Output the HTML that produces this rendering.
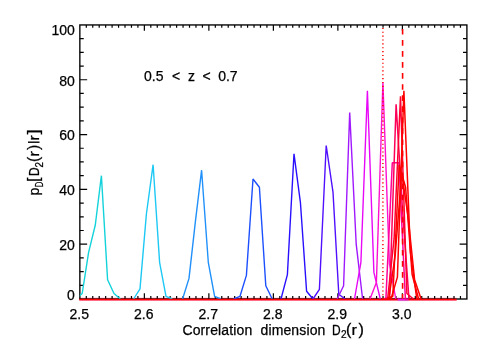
<!DOCTYPE html>
<html><head><meta charset="utf-8"><title>plot</title>
<style>
html,body{margin:0;padding:0;background:#fff;}
body{width:491px;height:350px;overflow:hidden;}
svg{display:block;will-change:transform;}
text{font-family:"Liberation Sans",sans-serif;fill:#000;stroke:#000;stroke-width:0.25px;}
</style></head><body>
<svg width="491" height="350" viewBox="0 0 491 350">
<rect width="491" height="350" fill="#fff"/>
<defs><clipPath id="cp"><rect x="79.8" y="23.9" width="387.0" height="277.1"/></clipPath></defs>

<line x1="79.3" x2="456.6" y1="299.4" y2="299.4" stroke="#ff90b0" stroke-width="3.2"/>
<line x1="397.6" x2="408.4" y1="299.5" y2="299.5" stroke="#c898ff" stroke-width="3.2"/>
<g stroke="#000" stroke-width="1.35" fill="none" stroke-linecap="butt">
<rect x="79.85" y="24.95" width="387.05" height="274.05"/>
<path stroke-width="1.2" d="M86.30 299.00v-2.90M86.30 24.95v2.90M92.75 299.00v-2.90M92.75 24.95v2.90M99.20 299.00v-2.90M99.20 24.95v2.90M105.65 299.00v-2.90M105.65 24.95v2.90M112.10 299.00v-2.90M112.10 24.95v2.90M118.56 299.00v-2.90M118.56 24.95v2.90M125.01 299.00v-2.90M125.01 24.95v2.90M131.46 299.00v-2.90M131.46 24.95v2.90M137.91 299.00v-2.90M137.91 24.95v2.90M144.36 299.00v-5.70M144.36 24.95v5.70M150.81 299.00v-2.90M150.81 24.95v2.90M157.26 299.00v-2.90M157.26 24.95v2.90M163.71 299.00v-2.90M163.71 24.95v2.90M170.16 299.00v-2.90M170.16 24.95v2.90M176.61 299.00v-2.90M176.61 24.95v2.90M183.06 299.00v-2.90M183.06 24.95v2.90M189.51 299.00v-2.90M189.51 24.95v2.90M195.97 299.00v-2.90M195.97 24.95v2.90M202.42 299.00v-2.90M202.42 24.95v2.90M208.87 299.00v-5.70M208.87 24.95v5.70M215.32 299.00v-2.90M215.32 24.95v2.90M221.77 299.00v-2.90M221.77 24.95v2.90M228.22 299.00v-2.90M228.22 24.95v2.90M234.67 299.00v-2.90M234.67 24.95v2.90M241.12 299.00v-2.90M241.12 24.95v2.90M247.57 299.00v-2.90M247.57 24.95v2.90M254.02 299.00v-2.90M254.02 24.95v2.90M260.47 299.00v-2.90M260.47 24.95v2.90M266.92 299.00v-2.90M266.92 24.95v2.90M273.37 299.00v-5.70M273.37 24.95v5.70M279.83 299.00v-2.90M279.83 24.95v2.90M286.28 299.00v-2.90M286.28 24.95v2.90M292.73 299.00v-2.90M292.73 24.95v2.90M299.18 299.00v-2.90M299.18 24.95v2.90M305.63 299.00v-2.90M305.63 24.95v2.90M312.08 299.00v-2.90M312.08 24.95v2.90M318.53 299.00v-2.90M318.53 24.95v2.90M324.98 299.00v-2.90M324.98 24.95v2.90M331.43 299.00v-2.90M331.43 24.95v2.90M337.88 299.00v-5.70M337.88 24.95v5.70M344.33 299.00v-2.90M344.33 24.95v2.90M350.78 299.00v-2.90M350.78 24.95v2.90M357.24 299.00v-2.90M357.24 24.95v2.90M363.69 299.00v-2.90M363.69 24.95v2.90M370.14 299.00v-2.90M370.14 24.95v2.90M376.59 299.00v-2.90M376.59 24.95v2.90M383.04 299.00v-2.90M383.04 24.95v2.90M389.49 299.00v-2.90M389.49 24.95v2.90M395.94 299.00v-2.90M395.94 24.95v2.90M402.39 299.00v-5.70M402.39 24.95v5.70M408.84 299.00v-2.90M408.84 24.95v2.90M415.29 299.00v-2.90M415.29 24.95v2.90M421.74 299.00v-2.90M421.74 24.95v2.90M428.19 299.00v-2.90M428.19 24.95v2.90M434.65 299.00v-2.90M434.65 24.95v2.90M441.10 299.00v-2.90M441.10 24.95v2.90M447.55 299.00v-2.90M447.55 24.95v2.90M454.00 299.00v-2.90M454.00 24.95v2.90M460.45 299.00v-2.90M460.45 24.95v2.90M79.85 285.30h3.90M466.90 285.30h-3.90M79.85 271.60h3.90M466.90 271.60h-3.90M79.85 257.89h3.90M466.90 257.89h-3.90M79.85 244.19h7.30M466.90 244.19h-7.30M79.85 230.49h3.90M466.90 230.49h-3.90M79.85 216.78h3.90M466.90 216.78h-3.90M79.85 203.08h3.90M466.90 203.08h-3.90M79.85 189.38h7.30M466.90 189.38h-7.30M79.85 175.68h3.90M466.90 175.68h-3.90M79.85 161.97h3.90M466.90 161.97h-3.90M79.85 148.27h3.90M466.90 148.27h-3.90M79.85 134.57h7.30M466.90 134.57h-7.30M79.85 120.87h3.90M466.90 120.87h-3.90M79.85 107.16h3.90M466.90 107.16h-3.90M79.85 93.46h3.90M466.90 93.46h-3.90M79.85 79.76h7.30M466.90 79.76h-7.30M79.85 66.06h3.90M466.90 66.06h-3.90M79.85 52.35h3.90M466.90 52.35h-3.90M79.85 38.65h3.90M466.90 38.65h-3.90"/>
</g>
<g fill="none" stroke-linejoin="bevel" stroke-linecap="butt" clip-path="url(#cp)">
<polyline points="75.8,299.0 82.2,293.5 88.6,252.4 95.3,225.0 101.4,175.7 107.6,279.8 114.0,293.5 120.4,299.0" stroke="#12d2da" stroke-width="1.40"/>
<polyline points="133.6,299.0 140.0,288.9 146.4,214.0 153.1,164.7 159.6,262.3 166.0,296.3 172.4,299.0" stroke="#1cc8f4" stroke-width="1.40"/>
<polyline points="182.6,299.0 189.0,278.4 195.3,222.3 201.6,170.2 208.3,262.3 214.6,296.3 221.0,299.0" stroke="#2090fa" stroke-width="1.40"/>
<polyline points="233.6,299.0 240.0,296.3 246.4,275.4 253.0,179.0 259.4,187.2 265.8,285.8 272.2,299.0" stroke="#1c50ff" stroke-width="1.40"/>
<polyline points="281.0,299.0 287.4,274.6 294.0,153.8 300.4,202.3 306.6,291.3 313.0,299.0" stroke="#2810ff" stroke-width="1.40"/>
<polyline points="313.0,299.0 319.4,289.4 326.2,145.5 333.0,192.1 338.8,294.3 345.0,299.0" stroke="#5010ff" stroke-width="1.40"/>
<polyline points="337.2,299.0 343.6,285.8 349.7,112.6 356.2,244.2 362.6,299.0" stroke="#a018ff" stroke-width="1.40"/>
<polyline points="354.5,299.0 360.9,262.3 367.4,90.7 373.9,272.4 380.3,299.0" stroke="#e808f8" stroke-width="1.40"/>
<polyline points="370.0,299.0 376.4,282.6 382.9,82.5 389.4,263.4 395.8,299.0" stroke="#ff10d0" stroke-width="1.40"/>
</g>
<g fill="none" stroke-linejoin="bevel" stroke-linecap="butt" clip-path="url(#cp)">
<polyline points="385.9,299.0 392.3,162.8 398.9,162.8 405.4,299.0" stroke="#ff0098" stroke-width="1.50"/>
<polyline points="383.2,299.0 389.6,297.6 396.1,104.4 402.6,211.3 409.0,299.0" stroke="#ff0058" stroke-width="1.50"/>
<polyline points="387.6,299.0 394.1,238.7 400.5,96.2 406.9,293.5 413.4,299.0" stroke="#ff0030" stroke-width="1.50"/>
<polyline points="386.3,299.0 392.8,296.3 399.2,165.0 405.6,187.2 412.1,274.3 418.6,299.0" stroke="#ff0000" stroke-width="1.50"/>
<polyline points="388.8,299.0 395.2,255.2 401.7,172.9 408.1,216.8 414.6,279.8 421.1,299.0" stroke="#ff0000" stroke-width="1.50"/>
<polyline points="391.0,299.0 397.4,277.1 403.9,90.7 410.4,252.4 416.8,299.0" stroke="#ff0000" stroke-width="1.50"/>
</g>
<line x1="382.9" x2="382.9" y1="27.9" y2="299.0" stroke="#ff0000" stroke-width="1.5" stroke-dasharray="1.1 2.76"/>
<line x1="402.6" x2="402.6" y1="28.9" y2="299.0" stroke="#ff0000" stroke-width="1.6" stroke-dasharray="5.7 5.35"/>
<line x1="79.3" x2="456.6" y1="299.45" y2="299.45" stroke="#ff0000" stroke-width="1.6"/>
<line x1="397.6" x2="405.4" y1="299.45" y2="299.45" stroke="#ff08e0" stroke-width="1.6"/>
<line x1="405.4" x2="408.6" y1="299.45" y2="299.45" stroke="#ff00a0" stroke-width="1.6"/>
<text x="79.2" y="319.4" font-size="14" text-anchor="middle" >2.5</text>
<text x="143.8" y="319.4" font-size="14" text-anchor="middle" >2.6</text>
<text x="208.3" y="319.4" font-size="14" text-anchor="middle" >2.7</text>
<text x="272.8" y="319.4" font-size="14" text-anchor="middle" >2.8</text>
<text x="337.3" y="319.4" font-size="14" text-anchor="middle" >2.9</text>
<text x="401.8" y="319.4" font-size="14" text-anchor="middle" >3.0</text>
<text x="74.9" y="300.1" font-size="14" text-anchor="end" >0</text>
<text x="74.9" y="249.9" font-size="14" text-anchor="end" >20</text>
<text x="74.9" y="195.1" font-size="14" text-anchor="end" >40</text>
<text x="74.9" y="140.3" font-size="14" text-anchor="end" >60</text>
<text x="74.9" y="85.5" font-size="14" text-anchor="end" >80</text>
<text x="74.9" y="34.6" font-size="14" text-anchor="end" >100</text>
<text x="144.0" y="80.7" font-size="14" text-anchor="start" >0.5</text>
<text x="172.0" y="80.7" font-size="14" text-anchor="start" >&lt;</text>
<text x="187.9" y="80.7" font-size="14" text-anchor="start" >z</text>
<text x="202.5" y="80.7" font-size="14" text-anchor="start" >&lt;</text>
<text x="218.2" y="80.7" font-size="14" text-anchor="start" >0.7</text>
<text x="182.4" y="335.3" font-size="14" text-anchor="start" letter-spacing="0.13">Correlation</text>
<text x="260.5" y="335.3" font-size="14" text-anchor="start" letter-spacing="0.13">dimension</text>
<g transform="translate(0,335.4)">
<text transform="translate(332.12,0.00) scale(0.857,1.000)" font-size="14">D</text>
<text transform="translate(340.90,3.00) scale(1.009,1.000)" font-size="10">2</text>
<text transform="translate(346.12,0.00) scale(1.132,1.120)" font-size="14">(</text>
<text transform="translate(351.62,0.00) scale(1.171,1.000)" font-size="14">r</text>
<text transform="translate(358.50,0.00) scale(1.159,1.120)" font-size="14">)</text>
</g>
<g transform="translate(39.3,194.6) rotate(-90)">
<text transform="translate(-0.90,0.00) scale(1.000,1.000)" font-size="14">p</text>
<text transform="translate(7.36,3.60) scale(0.777,1.000)" font-size="10">D</text>
<text transform="translate(12.56,0.00) scale(1.149,1.160)" font-size="14">[</text>
<text transform="translate(18.52,0.00) scale(0.857,1.000)" font-size="14">D</text>
<text transform="translate(27.01,3.60) scale(0.987,1.000)" font-size="10">2</text>
<text transform="translate(32.54,0.00) scale(1.105,1.160)" font-size="14">(</text>
<text transform="translate(37.96,0.00) scale(1.229,1.000)" font-size="14">r</text>
<text transform="translate(44.60,0.00) scale(1.132,1.160)" font-size="14">)</text>
<rect x="51.7" y="-11.3" width="1.4" height="11.5" fill="#000"/>
<text transform="translate(54.07,0.00) scale(1.114,1.000)" font-size="14">r</text>
<text transform="translate(60.05,0.00) scale(1.364,1.160)" font-size="14">]</text>
</g>
</svg></body></html>
